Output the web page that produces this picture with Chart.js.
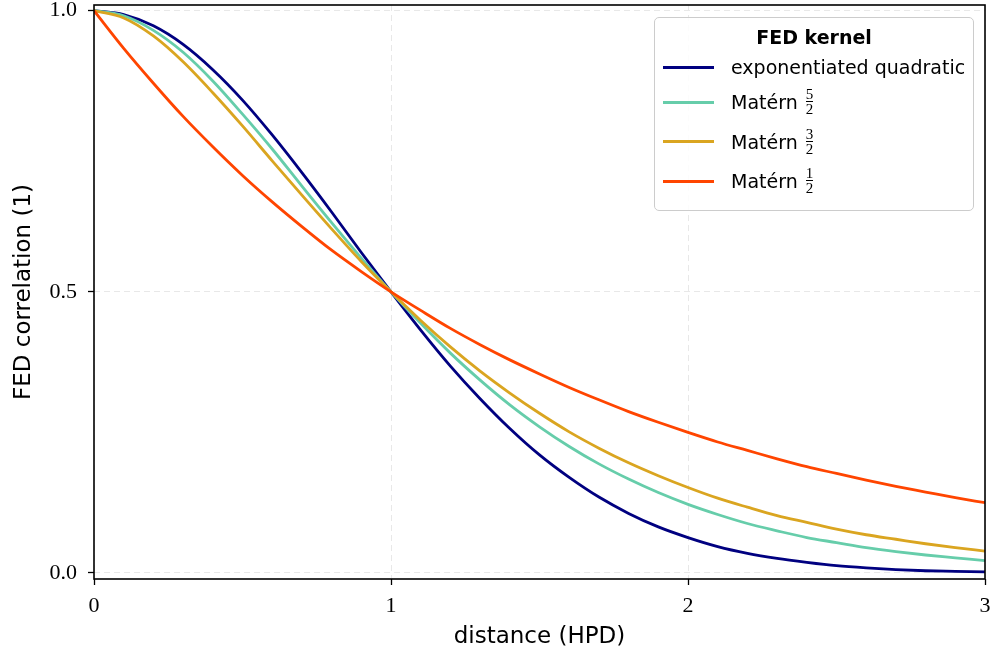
<!DOCTYPE html>
<html>
<head>
<meta charset="utf-8">
<script src="https://cdn.jsdelivr.net/npm/chart.js@4"></script>
<style>
  body { margin: 0; background: #fff; }
  #wrap { position: relative; width: 999px; height: 657px; }
  #legend {
    position: absolute; left: 654px; top: 17px; width: 318px; height: 188px;
    border: 1.5px solid #cccccc; border-radius: 5px; background: rgba(255,255,255,0.85);
    font-family: "DejaVu Sans", sans-serif; font-size: 19px; color: #000;
    box-sizing: content-box; padding-top: 4px;
  }
  #legend .title { height: 30px; line-height: 30px; text-align: center; font-weight: bold; }
  #legend .row { display: flex; align-items: center; }
  #legend .swatch { width: 51px; height: 3px; margin-left: 8px; margin-right: 17px; }
  .frac { display: inline-flex; flex-direction: column; align-items: center; vertical-align: middle;
    font-family: "Liberation Serif", serif; font-size: 15px; line-height: 13px; margin-left: 8px; }
  .frac .den { border-top: 1px solid #000; padding-top: 1px; }
</style>
</head>
<body>
<div id="wrap">
  <canvas id="chart-kernel" width="999" height="657"></canvas>
  <div id="legend"></div>
</div>
<script>
const distance = [0, 0.1, 0.2, 0.3, 0.4, 0.5, 0.6, 0.7, 0.8, 0.9, 1.0,
  1.1, 1.2, 1.3, 1.4, 1.5, 1.6, 1.7, 1.8, 1.9, 2.0,
  2.1, 2.2, 2.3, 2.4, 2.5, 2.6, 2.7, 2.8, 2.9, 3.0];
const expQuad = [1.000, 0.993, 0.973, 0.940, 0.895, 0.841, 0.779, 0.712, 0.642, 0.570, 0.500,
  0.432, 0.368, 0.310, 0.257, 0.210, 0.170, 0.135, 0.106, 0.082, 0.063,
  0.047, 0.035, 0.026, 0.019, 0.013, 0.009, 0.006, 0.004, 0.003, 0.002];
const matern52 = [1.000, 0.991, 0.965, 0.926, 0.875, 0.816, 0.754, 0.688, 0.623, 0.560, 0.500,
  0.444, 0.391, 0.343, 0.299, 0.260, 0.225, 0.194, 0.167, 0.143, 0.122,
  0.104, 0.088, 0.075, 0.063, 0.054, 0.045, 0.038, 0.032, 0.027, 0.022];
const matern32 = [1.000, 0.987, 0.955, 0.909, 0.854, 0.795, 0.733, 0.672, 0.612, 0.554, 0.500,
  0.449, 0.402, 0.359, 0.320, 0.284, 0.251, 0.222, 0.196, 0.173, 0.152,
  0.133, 0.117, 0.102, 0.090, 0.078, 0.068, 0.060, 0.052, 0.045, 0.039];
const matern12 = [1.000, 0.933, 0.871, 0.812, 0.758, 0.707, 0.660, 0.616, 0.574, 0.536, 0.500,
  0.467, 0.435, 0.406, 0.379, 0.354, 0.330, 0.308, 0.287, 0.268, 0.250,
  0.233, 0.218, 0.203, 0.189, 0.177, 0.165, 0.154, 0.144, 0.134, 0.125];

const seriesNames = [`exponentiated quadratic`, `Matérn`, `Matérn`, `Matérn`];
const seriesFracs = [null, [`5`, `2`], [`3`, `2`], [`1`, `2`]];
const seriesColors = [`#000080`, `#66cdaa`, `#daa520`, `#ff4500`];
const xTicks = [0, 1, 2, 3];
const yTicks = [0, 0.5, 1.0];

const pts = (ys) => distance.map((d, i) => ({ x: d, y: ys[i] }));
const allSeries = [expQuad, matern52, matern32, matern12];

const serif = { family: `"Liberation Serif", serif`, size: 22 };
const sans = { family: `"DejaVu Sans", sans-serif`, size: 23 };

const frame = {
  id: `frame`,
  afterDraw(chart) {
    const { ctx, chartArea: a } = chart;
    ctx.save();
    ctx.strokeStyle = `#000`;
    ctx.lineWidth = 1.6;
    ctx.strokeRect(a.left, a.top, a.right - a.left, a.bottom - a.top);
    ctx.restore();
  }
};

const kernel = document.getElementById('chart-kernel');
const kernelChart = new Chart(kernel, {
  type: `line`,
  data: {
    datasets: allSeries.map((ys, i) => ({
      label: seriesNames[i],
      data: pts(ys),
      borderColor: seriesColors[i],
      borderWidth: 2.8,
      pointRadius: 0,
      fill: false,
      cubicInterpolationMode: `monotone`,
      order: allSeries.length - 1 - i
    }))
  },
  options: {
    responsive: false,
    animation: false,
    layout: { padding: { top: 5, right: 14, left: 0, bottom: 0 } },
    plugins: { legend: { display: false }, tooltip: { enabled: false } },
    scales: {
      x: {
        type: `linear`, min: 0, max: 3,
        afterBuildTicks: (s) => { s.ticks = xTicks.map(v => ({ value: v })); },
        afterFit: (s) => { s.height = 78; s.paddingLeft = 0; s.paddingRight = 0; },
        ticks: { color: `#000`, font: serif, padding: 8, callback: (v) => `${v}` },
        grid: { color: `#e8e8e8`, lineWidth: 1, tickColor: `#000`, tickLength: 6, tickWidth: 1.3 },
        border: { display: false, dash: [6, 4] },
        title: { display: true, text: `distance (HPD)`, color: `#000`, font: sans, padding: { top: 8, bottom: 6 } }
      },
      y: {
        type: `linear`, min: -0.0107, max: 1.0101,
        afterBuildTicks: (s) => { s.ticks = yTicks.map(v => ({ value: v })); },
        afterFit: (s) => { s.width = 94; s.paddingTop = 0; s.paddingBottom = 0; },
        ticks: { color: `#000`, font: serif, padding: 11, callback: (v) => v.toFixed(1) },
        grid: { color: `#e8e8e8`, lineWidth: 1, tickColor: `#000`, tickLength: 6, tickWidth: 1.3 },
        border: { display: false, dash: [6, 4] },
        title: { display: true, text: `FED correlation (1)`, color: `#000`, font: sans, padding: { top: 10, bottom: 0 } }
      }
    }
  },
  plugins: [frame]
});

// legend as html so the fractions stay real text
const legend = document.getElementById('legend');
const rowHeights = [30, 40, 39, 40];
legend.innerHTML = `<div class="title">FED kernel</div>` + seriesNames.map((name, i) => {
  const f = seriesFracs[i];
  const frac = f ? `<span class="frac"><span>${f[0]}</span><span class="den">${f[1]}</span></span>` : ``;
  return `<div class="row" style="height:${rowHeights[i]}px"><span class="swatch" style="background:${seriesColors[i]}"></span><span>${name}</span>${frac}</div>`;
}).join(``);
</script>
</body>
</html>
